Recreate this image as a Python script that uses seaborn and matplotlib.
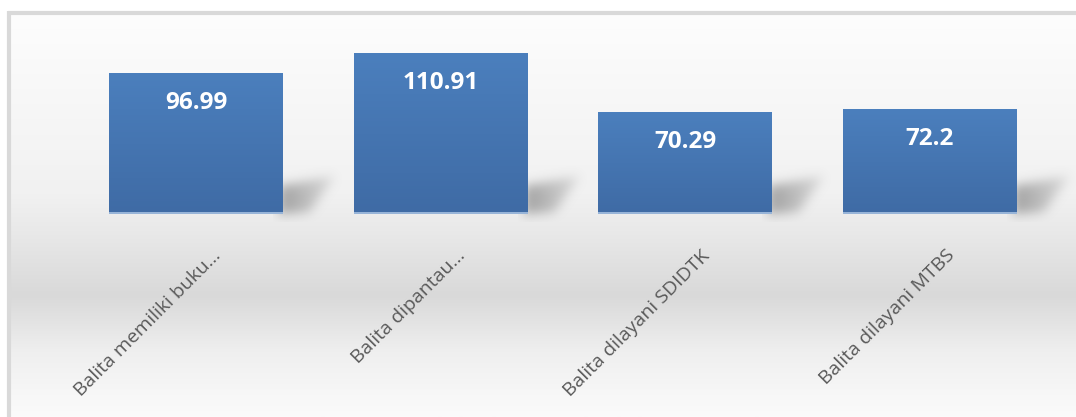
import numpy as np
import pandas as pd
import matplotlib
matplotlib.use("Agg")
import matplotlib.pyplot as plt
from matplotlib.colors import LinearSegmentedColormap
from matplotlib.path import Path
import matplotlib.transforms as mtransforms
import seaborn as sns

categories = ["Balita memiliki buku...", "Balita dipantau...",
              "Balita dilayani SDIDTK", "Balita dilayani MTBS"]
values = [96.99, 110.91, 70.29, 72.2]
value_labels = ["96.99", "110.91", "70.29", "72.2"]

W, H = 1076, 417
sns.set_theme(style="white")
plt.rcParams['font.family'] = ['Open Sans', 'DejaVu Sans']

fig = plt.figure(figsize=(W / 100, H / 100), dpi=100)
fig.patch.set_facecolor("white")

# background panel with the Excel-style vertical gradient
bg = fig.add_axes([0, 0, 1, 1])
bg.set_xlim(0, W)
bg.set_ylim(H, 0)
bg.axis("off")
bg_cmap = LinearSegmentedColormap.from_list(
    "bg", [(0.0, "#fdfdfd"), (0.45, "#f1f1f1"), (0.55, "#e8e8e8"),
           (0.70, "#d9d9d9"), (0.84, "#efefef"), (1.0, "#fbfbfb")])
grad = np.linspace(0, 1, 256).reshape(-1, 1)
bg.imshow(grad, extent=(9, W, H, 13), aspect="auto", cmap=bg_cmap,
          origin="upper", zorder=0)
bg.plot([8, W], [12.5, 12.5], color="#d9d9d9", lw=3, zorder=1,
        solid_capstyle="butt")
bg.plot([8.5, 8.5], [11, H], color="#d9d9d9", lw=3, zorder=1,
        solid_capstyle="butt")

# plot area
left, right, base, top = 74, 1052, 214, 40
ax = fig.add_axes([left / W, (H - base) / H, (right - left) / W,
                   (base - top) / H])
ax.patch.set_alpha(0)

df = pd.DataFrame({"kategori": categories, "nilai": values})
sns.barplot(data=df, x="kategori", y="nilai", color="#4a7ebb",
            width=0.71, ax=ax, zorder=3)
ax.set_ylim(0, 120)
ax.set_xlim(-0.5, len(categories) - 0.5)

px_x = (right - left) / len(categories)   # pixels per x unit
px_y = (base - top) / 120.0               # pixels per y unit

bar_cmap = LinearSegmentedColormap.from_list("bar", ["#3f6ba5", "#4b7fbd"])


def blur(a, sigma):
    r = int(3 * sigma)
    k = np.exp(-0.5 * (np.arange(-r, r + 1) / sigma) ** 2)
    k /= k.sum()
    a = np.apply_along_axis(lambda v: np.convolve(v, k, mode="same"), 0, a)
    return np.apply_along_axis(lambda v: np.convolve(v, k, mode="same"), 1, a)


# shadow mask in pixels, relative to a bar's lower right corner (y up)
shadow_path = Path([(-4, 0), (-4, 28), (52, 38), (26, 2)])
gx, gy = np.meshgrid(np.arange(-10, 85) + 0.5, np.arange(-8, 60) + 0.5)
mask = shadow_path.contains_points(
    np.column_stack([gx.ravel(), gy.ravel()])).reshape(gx.shape)
weight = np.clip(1.0 - gx / 75.0, 0, 1)
shade = blur(mask * weight, 5.5)
shadow_rgba = np.zeros(shade.shape + (4,))
shadow_rgba[..., :3] = 0.45
shadow_rgba[..., 3] = np.clip(shade * 0.6, 0, 1)

for patch, lab in zip(ax.patches, value_labels):
    x, w, h = patch.get_x(), patch.get_width(), patch.get_height()
    patch.set_edgecolor("none")
    img = ax.imshow(np.linspace(0, 1, 64).reshape(-1, 1),
                    extent=(x, x + w, 0, h), origin="lower", aspect="auto",
                    cmap=bar_cmap, zorder=3.5)
    img.set_clip_path(patch)
    ax.plot([x, x + w], [0.4, 0.4], color="#a9c3e3", lw=1.2, zorder=3.6,
            solid_capstyle="butt")
    xr = x + w
    ax.imshow(shadow_rgba, origin="lower", aspect="auto", zorder=2,
              extent=(xr - 10 / px_x, xr + 85 / px_x, -8 / px_y, 60 / px_y),
              interpolation="bilinear", clip_on=False)
    ax.text(x + w / 2, h - 30 / px_y, lab, ha="center", va="center",
            color="white", fontsize=17.5, fontweight="bold", zorder=5)

ax.set_xlabel("")
ax.set_ylabel("")
ax.set_yticks([])
sns.despine(ax=ax, left=True, bottom=True)
ax.tick_params(axis="x", length=0, pad=28)
shift = mtransforms.ScaledTranslation(22 / 100, 0, fig.dpi_scale_trans)
for t in ax.get_xticklabels():
    t.set_rotation(45)
    t.set_ha("right")
    t.set_va("center")
    t.set_rotation_mode("anchor")
    t.set_color("#595959")
    t.set_fontsize(14)
    t.set_transform(t.get_transform() + shift)

ax.set_xlim(-0.5, len(categories) - 0.5)
ax.set_ylim(0, 120)

fig.savefig("out.png", dpi=100)
